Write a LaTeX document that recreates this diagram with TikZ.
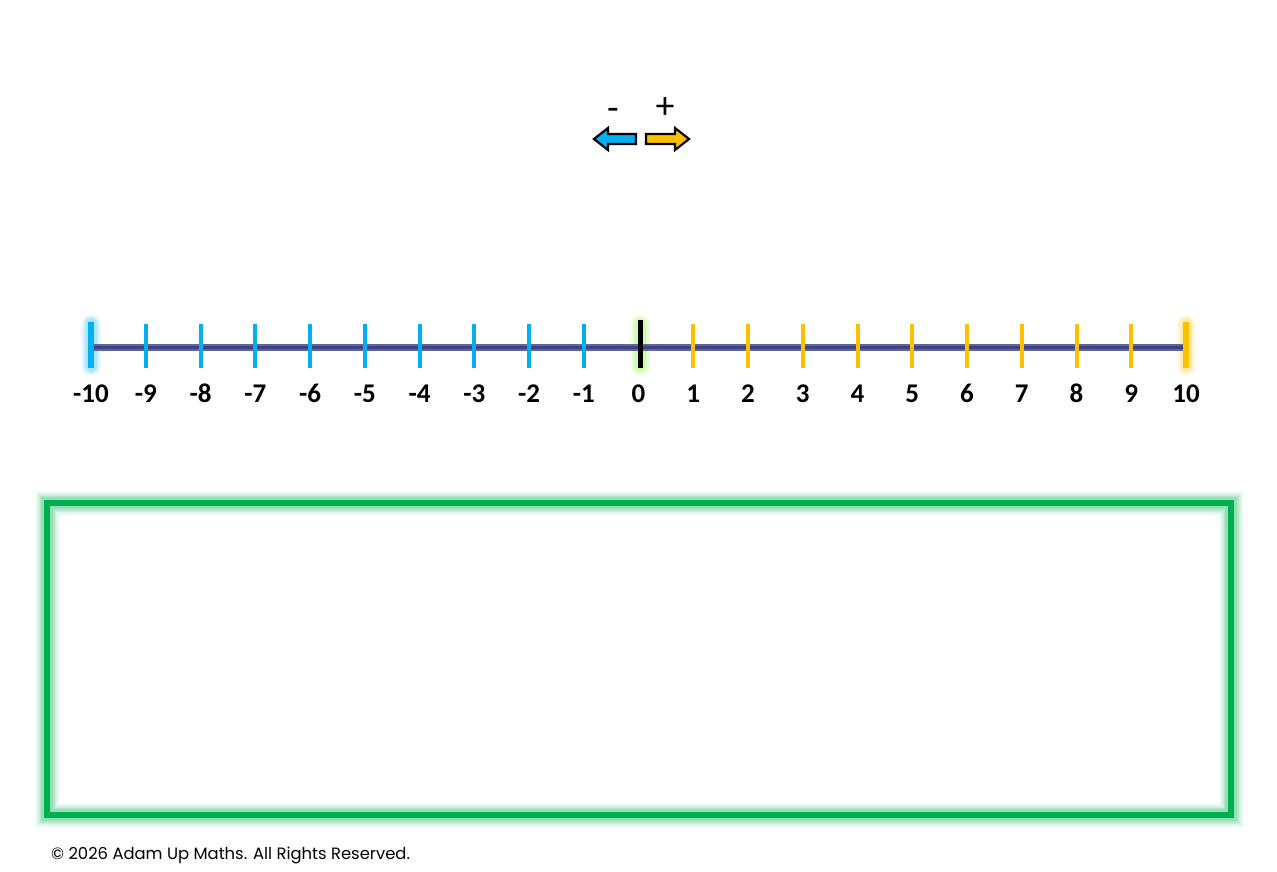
\documentclass[tikz,border=0pt]{standalone}
\usepackage{fontspec}
\setmainfont{Carlito}[Numbers=Lining]
\newfontfamily\footfont{Poppins}
\definecolor{tickblue}{HTML}{00B0F0}
\definecolor{tickgold}{HTML}{FFC000}
\definecolor{boxgreen}{HTML}{00B050}
\definecolor{linepurple}{HTML}{4B3A8C}
\definecolor{lineedge}{HTML}{4F6F8F}
\begin{document}
\begin{tikzpicture}[x=1pt,y=-1pt,
  numlabel/.style={font=\fontsize{27}{27}\selectfont\bfseries, inner sep=0pt, anchor=base},
  signlabel/.style={font=\fontsize{38}{38}\selectfont, inner sep=0pt, anchor=base},
  tickmark/.style={line width=4pt},
  blockarrow/.style={draw=black, line width=2.2pt, line join=miter}
]
\useasboundingbox (0,0) rectangle (1277,872);
% sign arrows
\node[signlabel] (minus) at (613,121) {-};
\node[signlabel] (plus) at (665,119) {+};
\draw[blockarrow, fill=tickblue] (594,139) -- (608,128) -- (608,134) -- (636,134) -- (636,144) -- (608,144) -- (608,150) -- cycle;
\draw[blockarrow, fill=tickgold] (689,139) -- (675,128) -- (675,134) -- (646,134) -- (646,144) -- (675,144) -- (675,150) -- cycle;
% glows
\foreach \w/\o in {20/0.06,17/0.08,14/0.1,11/0.14}{
  \draw[line width=\w pt, tickblue, opacity=\o, line cap=round] (91,324) -- (91,366);
  \draw[line width=\w pt, tickgold, opacity=\o, line cap=round] (1186,324) -- (1186,366);
  \draw[line width=\w pt, green!60!yellow, opacity=\o, line cap=round] (640,324) -- (640,366);
}
% main line
\coordinate (lstart) at (91,347);
\coordinate (lend) at (1186,347);
\draw[line width=7pt, lineedge] (lstart) -- (lend);
\draw[line width=3pt, linepurple] (lstart) -- (lend);
% ticks and labels
\foreach \i in {-9,...,-1}{
  \draw[tickmark, tickblue] ({91+54.75*(\i+10)},324) -- ({91+54.75*(\i+10)},368);
}
\foreach \i in {1,...,9}{
  \draw[tickmark, tickgold] ({91+54.75*(\i+10)},324) -- ({91+54.75*(\i+10)},368);
}
\draw[line width=6.5pt, tickblue] (91,322) -- (91,368);
\draw[line width=6.5pt, tickgold] (1186,322) -- (1186,368);
\draw[line width=5pt, black] (640,320) -- (640,368);
\foreach \i in {-10,...,10}{
  \node[numlabel] (n\i) at ({91+54.75*(\i+10)},402) {\i};
}
% green box with glow
\foreach \w/\o in {24/0.05,21/0.07,18/0.09,15/0.12,12/0.16}{
  \draw[line width=\w pt, boxgreen, opacity=\o] (47,503) rectangle (1231,815);
}
\draw[line width=6pt, boxgreen] (47,503) rectangle (1231,815);
% footer
\node[anchor=west, inner sep=0pt, font=\footfont\fontsize{16.4}{16.4}\selectfont] (copy) at (51,855) {© 2026 Adam Up Maths. All Rights Reserved.};
\end{tikzpicture}
\end{document}
